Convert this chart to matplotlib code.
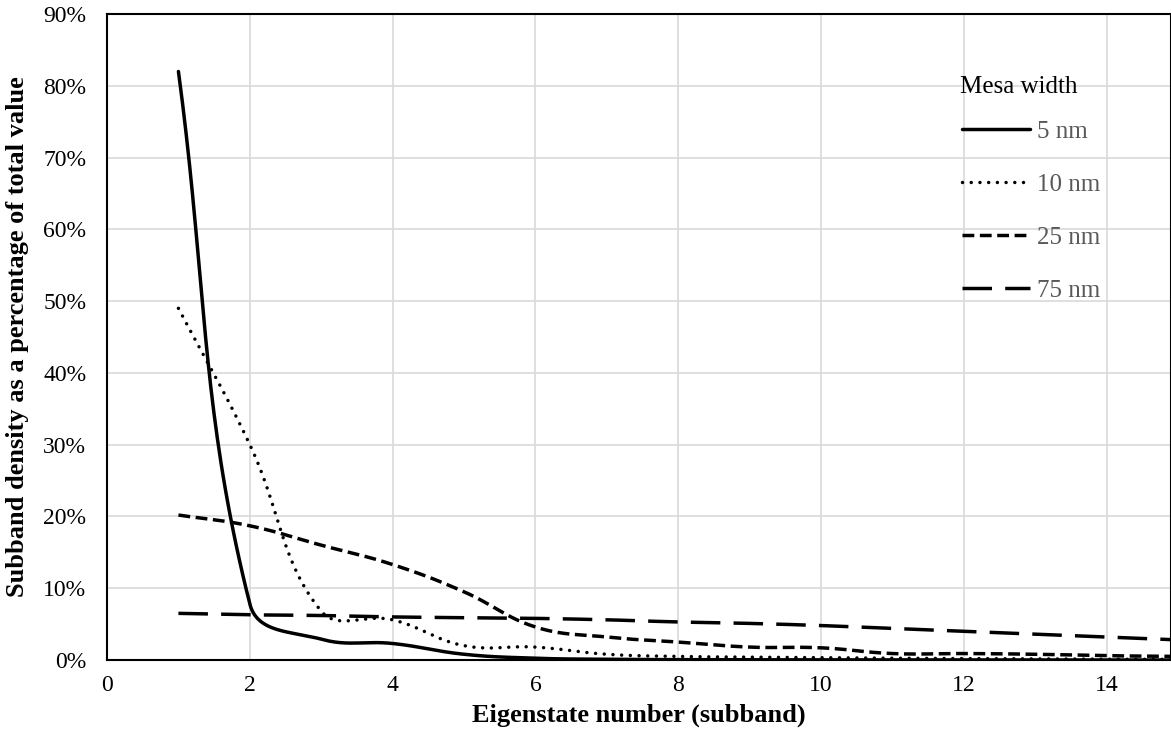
import numpy as np
import matplotlib.pyplot as plt
from matplotlib.ticker import FuncFormatter

# eigenstate number (subband)
eigenstates = list(range(1, 16))

# subband density, % of total value, per mesa width
w5 = [82, 7.8, 2.9, 2.3, 0.8, 0.25, 0.1, 0.05, 0.03, 0.02, 0.01, 0.01, 0.0, 0.0, 0.0]
w10 = [49, 30, 6.8, 5.6, 2.0, 1.8, 0.8, 0.5, 0.4, 0.3, 0.25, 0.2, 0.15, 0.1, 0.1]
w25 = [20.2, 18.7, 16.0, 13.3, 9.5, 4.6, 3.2, 2.5, 1.8, 1.7, 0.9, 0.9, 0.8, 0.6, 0.5]
w75 = [6.5, 6.3, 6.2, 6.0, 5.9, 5.8, 5.6, 5.3, 5.1, 4.8, 4.4, 4.0, 3.6, 3.2, 2.8]

labels = ["5 nm", "10 nm", "25 nm", "75 nm"]

plt.rcParams["font.family"] = ["Liberation Serif", "DejaVu Serif"]

XPX = 71.5   # pixels per x unit
YPX = 7.18   # pixels per 1 %


def smooth(x, y, n=40, tension=0.4):
    # Excel-like smoothed line: bezier segments, control points scaled by segment length
    pts = np.column_stack([np.asarray(x, float) * XPX, np.asarray(y, float) * YPX])
    m = len(pts)
    out = []
    t = np.linspace(0, 1, n)[:, None]
    for i in range(m - 1):
        p0, p3 = pts[i], pts[i + 1]
        prev = pts[i - 1] if i > 0 else p0
        nxt = pts[i + 2] if i + 2 < m else p3
        d01 = np.hypot(*(p0 - prev))
        d12 = np.hypot(*(p3 - p0))
        d23 = np.hypot(*(nxt - p3))
        c1 = p0 + tension * (p3 - prev) * (d12 / (d01 + d12) if d01 + d12 > 0 else 0)
        c2 = p3 - tension * (nxt - p0) * (d12 / (d12 + d23) if d12 + d23 > 0 else 0)
        b = (1 - t) ** 3 * p0 + 3 * (1 - t) ** 2 * t * c1 + 3 * (1 - t) * t ** 2 * c2 + t ** 3 * p3
        out.append(b)
    out = np.vstack(out)
    return out[:, 0] / XPX, out[:, 1] / YPX


fig = plt.figure(figsize=(11.71, 7.41), dpi=100)
ax = fig.add_axes([0.0914, 0.1093, 0.9086, 0.8717])

lw = 2.5
styles = [
    dict(linestyle="-", solid_capstyle="round"),
    dict(linestyle=(0, (0.01, 2.5)), dash_capstyle="round"),
    dict(linestyle=(0, (3.4, 1.6)), dash_capstyle="butt"),
    dict(linestyle=(0, (8.5, 3.8)), dash_capstyle="butt"),
]

for series, lab, st in zip([w5, w10, w25, w75], labels, styles):
    sx, sy = smooth(eigenstates, series)
    ax.plot(sx, sy, color="black", lw=lw, label=lab, **st)

ax.set_xlim(0, 14.9)
ax.set_ylim(0, 90)
ax.set_xticks(range(0, 15, 2))
ax.set_yticks(range(0, 91, 10))
ax.yaxis.set_major_formatter(FuncFormatter(lambda v, p: f"{v:.0f}%"))
ax.tick_params(length=0, labelsize=17)
ax.tick_params(axis="y", pad=15)
ax.tick_params(axis="x", pad=11)
ax.grid(True, color="#d9d9d9", lw=1.2)
ax.set_axisbelow(True)
for s in ax.spines.values():
    s.set_linewidth(1.5)
    s.set_color("black")

ax.set_xlabel("Eigenstate number (subband)", fontsize=19, fontweight="bold", labelpad=5)
ax.set_ylabel("Subband density as a percentage of total value", fontsize=19,
              fontweight="bold", labelpad=10)

# legend title drawn as plain text so the gap to the entries matches
fig.text(960 / 1171, 1 - 87 / 741, "Mesa width", fontsize=18, color="black",
         ha="left", va="center")
leg = ax.legend(loc="upper left", bbox_to_anchor=((962 - 107) / 1064, (660 - 120) / 646),
                frameon=False, fontsize=18, handlelength=2.7,
                handletextpad=0.3, labelspacing=1.22, borderpad=0, borderaxespad=0)
for t in leg.get_texts():
    t.set_color("#595959")

fig.savefig("out.png", dpi=100)
